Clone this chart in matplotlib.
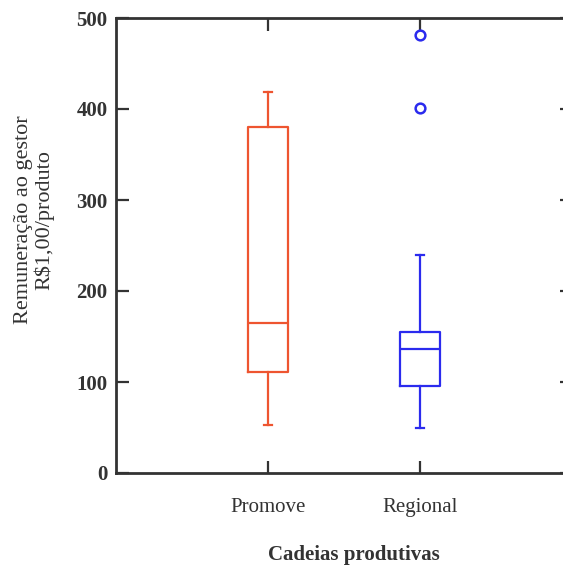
import matplotlib
matplotlib.use("Agg")
import matplotlib.pyplot as plt

# valores
categorias = ["Promove", "Regional"]
minimos = [53, 49]
q1 = [111, 96]
medianas = [165, 136]
q3 = [380, 155]
maximos = [419, 240]
outliers = [[], [401, 481]]
cores = ["#EE5530", "#2B2BEE"]

plt.rcParams["font.family"] = ["Liberation Serif", "DejaVu Serif"]

fig = plt.figure(figsize=(5.63, 5.65), dpi=100)
ax = fig.add_axes([116 / 563, 92 / 565, 456 / 563, 455 / 565])

posicoes = [1, 2]
for i, cat in enumerate(categorias):
    stats = [{
        "whislo": minimos[i], "q1": q1[i], "med": medianas[i],
        "q3": q3[i], "whishi": maximos[i], "fliers": outliers[i],
        "label": cat,
    }]
    c = cores[i]
    ax.bxp(stats, positions=[posicoes[i]], widths=0.26, capwidths=0.055,
           boxprops=dict(color=c, linewidth=1.6),
           whiskerprops=dict(color=c, linewidth=1.6),
           capprops=dict(color=c, linewidth=1.6),
           medianprops=dict(color=c, linewidth=1.6),
           flierprops=dict(marker="o", markerfacecolor="white",
                           markeredgecolor=c, markersize=7,
                           markeredgewidth=1.8))

ax.set_xlim(0, 3)
ax.set_ylim(0, 500)
ax.set_yticks([0, 100, 200, 300, 400, 500])
ax.set_xticks(posicoes)
ax.set_xticklabels(categorias, fontsize=15, color="#333333")

for s in ax.spines.values():
    s.set_linewidth(2)
    s.set_color("#333333")

ax.tick_params(direction="in", top=True, right=True, length=9, width=1.6,
               color="#333333")
ax.tick_params(axis="x", pad=18)
ax.tick_params(axis="y", pad=6, labelsize=15, labelcolor="#333333")
for t in ax.get_yticklabels():
    t.set_fontweight("bold")

ax.set_ylabel("Remuneração ao gestor\nR$1,00/produto", fontsize=16,
              color="#333333", linespacing=1.0)
ax.yaxis.set_label_coords(-0.136, 0.556)
ax.set_xlabel("Cadeias produtivas", fontsize=15, fontweight="bold",
              color="#333333")
ax.xaxis.set_label_coords(0.522, -0.158)

fig.savefig("out.png", dpi=100)
